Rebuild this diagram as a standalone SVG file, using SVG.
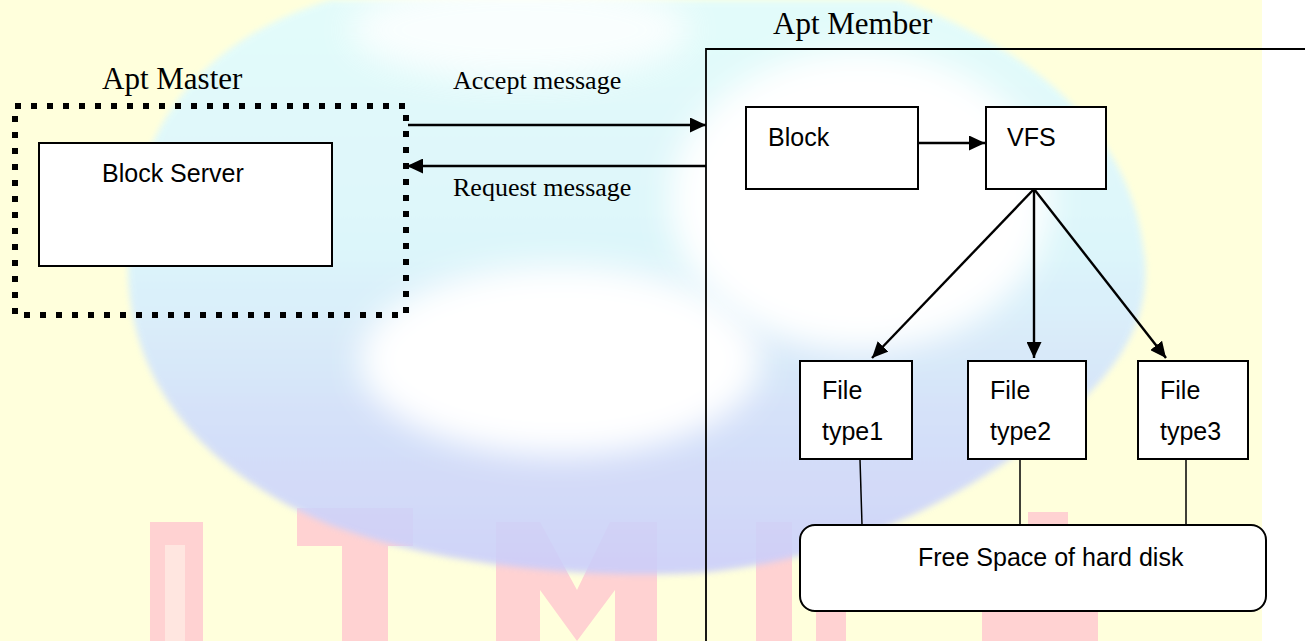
<svg xmlns="http://www.w3.org/2000/svg" width="1305" height="641" viewBox="0 0 1305 641">
  <style>
    .serif { font-family: "Liberation Serif", "Times New Roman", serif; fill: #000; }
    .sans { font-family: "Liberation Sans", Arial, sans-serif; font-size: 25px; fill: #000; }
    .box { fill: #fff; stroke: #000; stroke-width: 2; }
    .conn { stroke: #000; stroke-width: 2.4; fill: none; }
    .thin { stroke: #000; stroke-width: 1.5; fill: none; }
    .red { fill: #ffd2d2; }
  </style>
  <defs>
    <marker id="ah" viewBox="0 0 16 15" refX="16" refY="7.5" markerWidth="16" markerHeight="15" markerUnits="userSpaceOnUse" orient="auto">
      <path d="M0,0 L16,7.5 L0,15 z" fill="#000"/>
    </marker>
    <linearGradient id="globeGrad" x1="0" y1="0" x2="0" y2="1">
      <stop offset="0" stop-color="#e0fcff"/>
      <stop offset="0.45" stop-color="#d8f4ff"/>
      <stop offset="0.75" stop-color="#cfdcfd"/>
      <stop offset="1" stop-color="#c9cdfc"/>
    </linearGradient>
    <filter id="blur" x="-30%" y="-30%" width="160%" height="160%">
      <feGaussianBlur stdDeviation="16"/>
    </filter>
    <filter id="blurS" x="-20%" y="-20%" width="140%" height="140%">
      <feGaussianBlur stdDeviation="3"/>
    </filter>
  </defs>

  <!-- background watermark -->
  <g id="background">
    <rect x="0" y="0" width="1305" height="641" fill="#ffffff"/>
    <rect x="0" y="0" width="1262" height="641" fill="#ffffdc"/>
    <rect class="red" x="150" y="522" width="53" height="119"/>
    <rect x="165" y="545" width="20" height="96" fill="#ffe6e0"/>
    <rect class="red" x="297" y="508" width="116" height="38"/>
    <rect class="red" x="342" y="545" width="46" height="96"/>
    <path class="red" d="M496,522 L540,522 L577,590 L610,522 L657,522 L657,641 L615,641 L615,590 L577,641 L540,590 L540,641 L496,641 Z"/>
    <rect class="red" x="756" y="522" width="36" height="119"/>
    <rect class="red" x="1028" y="512" width="40" height="14"/>
    <rect class="red" x="816" y="611" width="30" height="30"/>
    <rect class="red" x="982" y="611" width="116" height="30"/>
    <path d="M330,0 C200,40 130,130 128,260 C126,380 200,470 330,525 C450,570 600,578 700,573 C850,560 980,490 1060,420 C1120,370 1150,320 1145,260 C1135,150 1060,60 900,0 Z" fill="url(#globeGrad)" opacity="0.88" filter="url(#blurS)"/>
    <ellipse cx="560" cy="360" rx="200" ry="95" fill="#ffffff" filter="url(#blur)"/>
    <ellipse cx="860" cy="200" rx="190" ry="150" fill="#ffffff" filter="url(#blur)"/>
    <ellipse cx="520" cy="30" rx="170" ry="50" fill="#ffffff" opacity="0.8" filter="url(#blur)"/>
  </g>

  <!-- titles -->
  <text class="serif" x="102" y="89" font-size="31">Apt Master</text>
  <text class="serif" x="773" y="34" font-size="31">Apt Member</text>

  <!-- Apt Member boundary -->
  <g id="apt-member">
    <path d="M706,641 L706,49 L1305,49" stroke="#000" stroke-width="1.8" fill="none"/>
  </g>

  <!-- Apt Master dotted boundary -->
  <g id="apt-master">
    <rect x="15" y="106" width="391" height="209" fill="none" stroke="#000" stroke-width="6" stroke-dasharray="6 10"/>
  </g>

  <g id="block-server">
    <rect class="box" x="39" y="143" width="293" height="123"/>
    <text class="sans" x="102" y="182">Block Server</text>
  </g>

  <g id="block">
    <rect class="box" x="746" y="107" width="172" height="82"/>
    <text class="sans" x="768" y="146">Block</text>
  </g>

  <g id="vfs">
    <rect class="box" x="986" y="107" width="120" height="82"/>
    <text class="sans" x="1007" y="146">VFS</text>
  </g>

  <g id="file-type1">
    <rect class="box" x="800" y="361" width="112" height="98"/>
    <text class="sans" x="822" y="399">File</text>
    <text class="sans" x="822" y="440">type1</text>
  </g>

  <g id="file-type2">
    <rect class="box" x="968" y="361" width="118" height="98"/>
    <text class="sans" x="990" y="399">File</text>
    <text class="sans" x="990" y="440">type2</text>
  </g>

  <g id="file-type3">
    <rect class="box" x="1138" y="361" width="110" height="98"/>
    <text class="sans" x="1160" y="399">File</text>
    <text class="sans" x="1160" y="440">type3</text>
  </g>

  <g id="free-space">
    <rect class="box" x="800" y="525" width="466" height="86" rx="15" ry="15"/>
    <text class="sans" x="918" y="566">Free Space of hard disk</text>
  </g>

  <!-- connectors -->
  <g id="connectors">
    <line class="conn" x1="408" y1="125" x2="706" y2="125" marker-end="url(#ah)"/>
    <line class="conn" x1="706" y1="166" x2="407" y2="166" marker-end="url(#ah)"/>
    <line class="conn" x1="918" y1="143" x2="985" y2="143" marker-end="url(#ah)"/>
    <line class="conn" x1="1034" y1="189" x2="872" y2="358" marker-end="url(#ah)"/>
    <line class="conn" x1="1034" y1="189" x2="1034" y2="358" marker-end="url(#ah)"/>
    <line class="conn" x1="1034" y1="189" x2="1166" y2="358" marker-end="url(#ah)"/>
    <line class="thin" x1="860" y1="459" x2="862" y2="525"/>
    <line class="thin" x1="1020" y1="459" x2="1020" y2="525"/>
    <line class="thin" x1="1186" y1="459" x2="1186" y2="525"/>
  </g>

  <!-- connector labels -->
  <text class="serif" x="453" y="89" font-size="26">Accept message</text>
  <text class="serif" x="453" y="196" font-size="26">Request message</text>
</svg>
